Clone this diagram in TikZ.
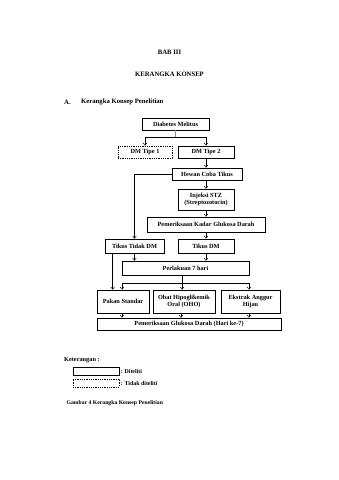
\documentclass[tikz,border=0pt]{standalone}
\usepackage{fontspec}
\setmainfont{Liberation Serif}
\usetikzlibrary{arrows.meta,calc}
\tikzset{
  box/.style={draw, line width=0.7pt, inner sep=0pt, align=center, font=\bfseries\fontsize{6.3}{7.2}\selectfont},
  dbox/.style={box, dash pattern=on 1pt off 0.8pt},
  arr/.style={line width=0.5pt, -{Straight Barb[length=2.2pt,width=3.6pt]}},
  ln/.style={line width=0.5pt},
  head/.style={font=\bfseries\fontsize{6.7}{8}\selectfont, inner sep=0pt},
  legtext/.style={font=\bfseries\fontsize{5.9}{7}\selectfont, inner sep=0pt, anchor=west},
}
\newcommand{\bx}[6]{\node[#1, minimum width=#4pt, minimum height=#5pt] (#2) at (#3) {#6};}
\begin{document}
\begin{tikzpicture}[x=1pt,y=-1pt]
\useasboundingbox[fill=white] (0,0) rectangle (339,480);
\node[head] (bab) at (169.5,52) {BAB III};
\node[head] (kk) at (169.5,74) {KERANGKA KONSEP};
\node[head, anchor=west] (secA) at (64,102) {A.};
\node[head, anchor=west] (secT) at (81,102) {Kerangka Konsep Penelitian};

\bx{box}{dm}{175.5,124}{67}{12}{Diabetes Melitus}
\bx{dbox}{dm1}{145,152}{54}{12}{DM Tipe 1}
\bx{box}{dm2}{206,152}{56}{12}{DM Tipe 2}
\bx{box}{hct}{207,174}{70}{12}{Hewan Coba Tikus}
\bx{box}{inj}{206,199.5}{56}{21}{Injeksi STZ\\(Streptozotocin)}
\bx{box}{pkg}{206,224.5}{118}{15}{Pemeriksaan Kadar Glukosa Darah}
\bx{box}{ttd}{134.5,246}{59}{14}{Tikus Tidak DM}
\bx{box}{tdm}{206,246}{56}{14}{Tikus DM}
\bx{box}{per}{185.5,268}{127}{14}{Perlakuan 7 hari}
\bx{box}{pak}{123,301.5}{52}{23}{Pakan Standar}
\bx{box}{oho}{184,301.5}{62}{23}{Obat Hipoglikemik\\Oral (OHO)}
\bx{box}{eks}{250.5,301.5}{59}{23}{Ekstrak Anggur\\Hijau}
\bx{box}{pgd}{189,324}{184}{12}{Pemeriksaan Glukosa Darah (Hari ke-7)}

% connectors
\coordinate (j1) at ($(dm.south)+(0,7)$);
\draw[ln, black!45] (dm.south) -- (j1);
\draw[arr] (j1) -| (dm1.north);
\draw[arr] (j1) -| (dm2.north);
\draw[arr] (dm2.south) -- (dm2.south |- hct.north);
\draw[arr] (hct.west) -| (ttd.north);
\draw[arr] (hct.south -| inj.north) -- (inj.north);
\draw[arr] (inj.south) -- (inj.south |- pkg.north);
\draw[arr] (pkg.south) -- (pkg.south |- tdm.north);
\coordinate (t1) at ($(ttd.south west)+(8,0)$);
\draw[arr] (t1) -- (t1 |- pak.north);
\draw[arr] (ttd.south) -- (ttd.south |- per.north);
\draw[arr] (tdm.south) -- (tdm.south |- per.north);
\coordinate (p0) at (182,275);
\coordinate (p1) at (182,283);
\draw[ln] (p0) -- (p1);
\coordinate (pl) at (122,283);
\coordinate (pr) at (249,283);
\draw[ln] (pl) -- (pr);
\draw[arr] (pl) -- (pl |- pak.north);
\draw[arr] (p1) -- (p1 |- oho.north);
\draw[arr] (pr) -- (pr |- eks.north);
\coordinate (q1) at (122,313);
\coordinate (q2) at (181,313);
\coordinate (q3) at (249,313);
\draw[arr] (q1) -- (q1 |- pgd.north);
\draw[arr] (q2) -- (q2 |- pgd.north);
\draw[arr] (q3) -- (q3 |- pgd.north);

% legend
\node[legtext, font=\bfseries\fontsize{6.3}{8}\selectfont] (ket) at (64,360) {Keterangan :};
\node[box, minimum width=46pt, minimum height=8pt] (lg1) at (96,371) {};
\node[dbox, minimum width=46pt, minimum height=8pt] (lg2) at (96,383) {};
\node[legtext] (lt1) at (120.5,371) {: Diteliti};
\node[legtext] (lt2) at (120.5,383) {: Tidak diteliti};
\node[legtext, font=\bfseries\fontsize{5.7}{7}\selectfont] (cap) at (66.5,403.5) {Gambar 4 Kerangka Konsep Penelitian};
\end{tikzpicture}
\end{document}
